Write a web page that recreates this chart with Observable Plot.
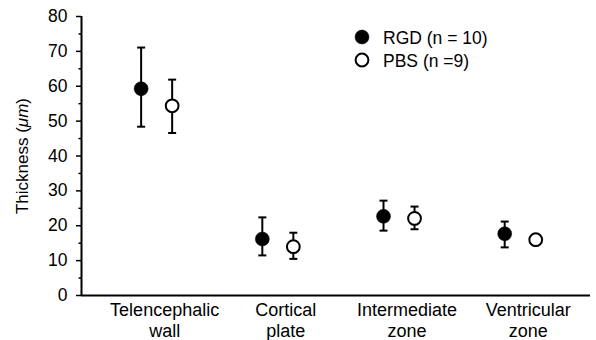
<!DOCTYPE html>
<html>
<head>
<meta charset="utf-8">
<script src="https://cdn.jsdelivr.net/npm/d3@7"></script>
<script src="https://cdn.jsdelivr.net/npm/@observablehq/plot@0.6"></script>
<style>
  body { margin: 0; background: white; }
  #chart { position: relative; width: 596px; height: 340px; }
</style>
</head>
<body>
<div id="chart"></div>
<script>
// Categories and values (µm)
const categories = ["Telencephalic\nwall", "Cortical\nplate", "Intermediate\nzone", "Ventricular\nzone"];
const rgdMean = [59.3, 16.2, 22.7, 17.7];
const rgdLow  = [48.4, 11.5, 18.6, 13.8];
const rgdHigh = [71.1, 22.4, 27.2, 21.2];
const pbsMean = [54.4, 14.0, 22.1, 16.0];
const pbsLow  = [46.6, 10.5, 19.0, 15.0];
const pbsHigh = [61.9, 18.0, 25.5, 17.0];
const seriesNames = ["RGD (n = 10)", "PBS (n =9)"];
const yTicks = [0, 10, 20, 30, 40, 50, 60, 70, 80];
const yMinorTicks = [5, 15, 25, 35, 45, 55, 65, 75];

const xDomain = [-0.62, 3.58];
const dodge = 0.128;

const rows = categories.flatMap((c, i) => [
  {series: "RGD", x: i - dodge, mean: rgdMean[i], lo: rgdLow[i], hi: rgdHigh[i]},
  {series: "PBS", x: i + dodge, mean: pbsMean[i], lo: pbsLow[i], hi: pbsHigh[i]}
]);

const capSymbol = {
  draw(context) {
    context.moveTo(-4, 0);
    context.lineTo(4, 0);
  }
};

const font = "'Liberation Sans', Arial, Helvetica, sans-serif";

const chart = Plot.plot({
  width: 596,
  height: 340,
  marginLeft: 81,
  marginTop: 16,
  marginRight: 6,
  marginBottom: 45,
  style: {fontFamily: font, fontSize: "17.5px", background: "white", color: "black", overflow: "visible"},
  x: {domain: xDomain},
  y: {domain: [0, 80]},
  marks: [
    Plot.axisY({ticks: yTicks, tickSize: 5, tickPadding: 9, strokeWidth: 1.5,
      label: "Thickness (μm)", labelAnchor: "center", labelArrow: "none", labelOffset: 66}),
    Plot.axisY({ticks: yMinorTicks, tickSize: 2.5, strokeWidth: 1.5, tickFormat: () => "", label: null}),
    Plot.axisX({ticks: [0, 1, 2, 3], tickFormat: i => categories[i], tickSize: 0, tickPadding: 6,
      fontSize: 18, lineHeight: 1.15, dx: 8, label: null}),
    Plot.ruleX([xDomain[0]], {strokeWidth: 2}),
    Plot.ruleY([0], {strokeWidth: 2}),
    Plot.ruleX(rows, {x: "x", y1: "lo", y2: "hi", strokeWidth: 2}),
    Plot.dot(rows, {x: "x", y: "lo", symbol: capSymbol, stroke: "black", strokeWidth: 2}),
    Plot.dot(rows, {x: "x", y: "hi", symbol: capSymbol, stroke: "black", strokeWidth: 2}),
    Plot.dot(rows.filter(d => d.series === "RGD"), {x: "x", y: "mean", r: 7, fill: "black", stroke: "black", strokeWidth: 0.5}),
    Plot.dot(rows.filter(d => d.series === "PBS"), {x: "x", y: "mean", r: 6.4, fill: "white", stroke: "black", strokeWidth: 2})
  ]
});

const svg = d3.select(chart);
// italic μ in the y label
svg.selectAll("text").filter(function () { return this.textContent === "Thickness (μm)"; })
  .each(function () {
    const t = d3.select(this);
    t.text(null).style("font-size", "17px");
    t.append("tspan").text("Thickness (");
    t.append("tspan").attr("font-style", "italic").text("μm");
    t.append("tspan").text(")");
  });

// legend
const legend = svg.append("g").attr("font-family", font).attr("font-size", 17.5).attr("text-anchor", "start");
const legendItems = legend.selectAll("g").data(seriesNames).join("g")
  .attr("transform", (d, i) => `translate(362,${37 + i * 23})`);
legendItems.append("circle")
  .attr("r", (d, i) => i === 0 ? 7 : 6.4)
  .attr("fill", (d, i) => i === 0 ? "black" : "white")
  .attr("stroke", "black")
  .attr("stroke-width", (d, i) => i === 0 ? 0.5 : 2);
legendItems.append("text").attr("x", 21).attr("y", 7).attr("text-anchor", "start").text(d => d);

document.getElementById("chart").appendChild(chart);
</script>
</body>
</html>
